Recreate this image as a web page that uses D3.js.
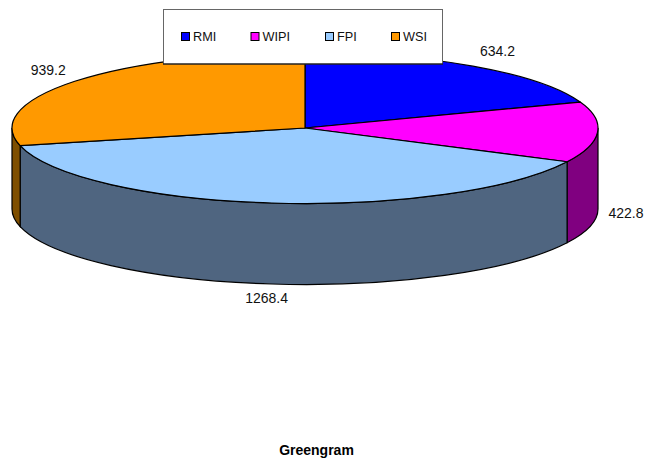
<!DOCTYPE html>
<html>
<head>
<meta charset="utf-8">
<style>
  html, body { margin: 0; padding: 0; background: #fff; }
  svg { display: block; font-family: "Liberation Sans", Arial, sans-serif; }
</style>
<script src="https://cdn.jsdelivr.net/npm/d3@7"></script>
</head>
<body>
<svg id="chart" width="647" height="462"></svg>
<script>
const categories = ["RMI", "WIPI", "FPI", "WSI"];
const values = [634.2, 422.8, 1268.4, 939.2];
const colors = ["#0000FF", "#FF00FF", "#99CCFF", "#FF9900"];
const wallColors = ["#000080", "#800080", "#4F6580", "#7F4F00"];
const chartTitle = "Greengram";

// Tilted pie geometry
const cx = 305, cy = 128, rx = 293, ry = 75.5, depth = 81;

// Label placement relative to each slice's rim point
const labelOffsets = [[24.6, -10], [28.5, 85.8], [-5.3, 100], [-26.6, -6.3]];
const legendLayout = [181, 250.5, 325, 391];

const svg = d3.select("#chart");
const pie = d3.pie().sort(null).value(d => d)(values);

const px = a => cx + rx * Math.sin(a);
const py = a => cy - ry * Math.cos(a);

// Elliptical wedge for the top face
function topWedge(d) {
  const large = d.endAngle - d.startAngle > Math.PI ? 1 : 0;
  return `M${cx},${cy}L${px(d.startAngle)},${py(d.startAngle)}` +
         `A${rx},${ry} 0 ${large} 1 ${px(d.endAngle)},${py(d.endAngle)}Z`;
}

// Outer wall: only the part of the rim on the near side of the ellipse shows
function wall(d) {
  const a0 = Math.max(d.startAngle, Math.PI / 2);
  const a1 = Math.min(d.endAngle, 3 * Math.PI / 2);
  if (a1 <= a0) return null;
  return `M${px(a0)},${py(a0)}A${rx},${ry} 0 0 1 ${px(a1)},${py(a1)}` +
         `L${px(a1)},${py(a1) + depth}` +
         `A${rx},${ry} 0 0 0 ${px(a0)},${py(a0) + depth}Z`;
}

svg.append("g").selectAll("path")
  .data(pie.filter(d => wall(d)))
  .join("path")
  .attr("d", wall)
  .attr("fill", d => wallColors[d.index])
  .attr("stroke", "#000")
  .attr("stroke-width", 1.2);

svg.append("g").selectAll("path")
  .data(pie)
  .join("path")
  .attr("d", topWedge)
  .attr("fill", d => colors[d.index])
  .attr("stroke", "#000")
  .attr("stroke-width", 1.2)
  .attr("stroke-linejoin", "round");

// Value labels
svg.append("g").selectAll("text")
  .data(pie)
  .join("text")
  .attr("x", d => px((d.startAngle + d.endAngle) / 2) + labelOffsets[d.index][0])
  .attr("y", d => py((d.startAngle + d.endAngle) / 2) + labelOffsets[d.index][1])
  .attr("text-anchor", "middle")
  .attr("font-size", 14)
  .attr("fill", "#111")
  .text(d => d.value);

// Legend panel
svg.append("rect")
  .attr("x", 163.5).attr("y", 9.5)
  .attr("width", 279).attr("height", 54.5)
  .attr("fill", "#fff").attr("stroke", "#666").attr("stroke-width", 1);
svg.append("line")
  .attr("x1", 163).attr("x2", 443)
  .attr("y1", 64).attr("y2", 64)
  .attr("stroke", "#000").attr("stroke-width", 1);

const legend = svg.append("g").selectAll("g")
  .data(categories)
  .join("g")
  .attr("transform", (d, i) => `translate(${legendLayout[i]},32)`);
legend.append("rect")
  .attr("x", 0.5).attr("y", 0.5)
  .attr("width", 8).attr("height", 8)
  .attr("fill", (d, i) => colors[i])
  .attr("stroke", "#000").attr("stroke-width", 1);
legend.append("text")
  .attr("x", 12).attr("y", 9)
  .attr("font-size", 12.7)
  .attr("fill", "#111")
  .text(d => d);

// Chart title
svg.append("text")
  .attr("x", 316.5).attr("y", 455)
  .attr("text-anchor", "middle")
  .attr("font-size", 14)
  .attr("font-weight", "bold")
  .attr("fill", "#000")
  .text(chartTitle);
</script>
</body>
</html>
